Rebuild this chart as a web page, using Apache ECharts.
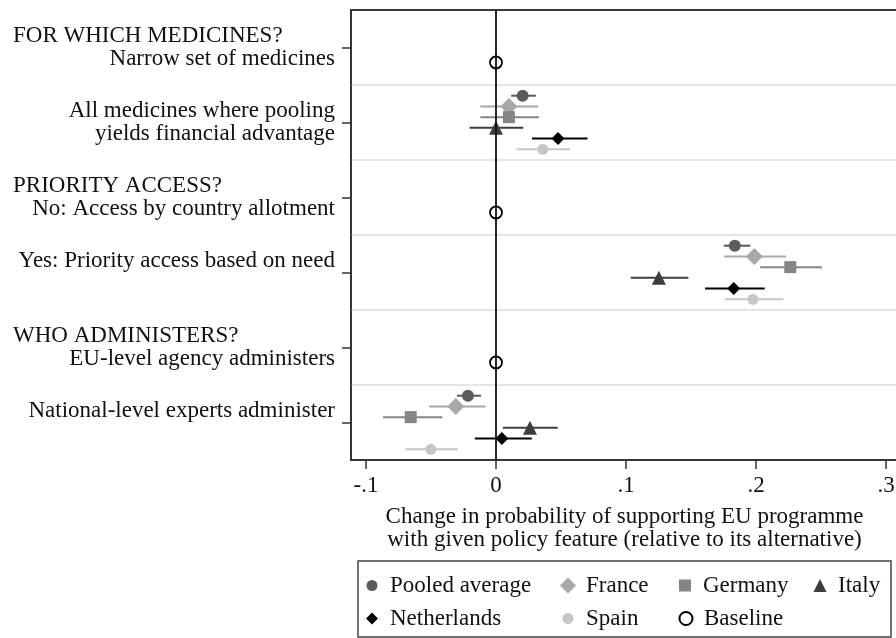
<!DOCTYPE html>
<html>
<head>
<meta charset="utf-8">
<script src="https://cdn.jsdelivr.net/npm/echarts@6/dist/echarts.min.js"></script>
<style>
  html, body { margin: 0; padding: 0; background: #fff; }
  #chart { width: 896px; height: 638px; }
</style>
</head>
<body>
<div id="chart"></div>
<script>
// rows, top to bottom
const rowHeaders = ['FOR WHICH MEDICINES?', '', 'PRIORITY ACCESS?', '', 'WHO ADMINISTERS?', '']
const rowLabels = [
  ['Narrow set of medicines'],
  ['All medicines where pooling', 'yields financial advantage'],
  ['No: Access by country allotment'],
  ['Yes: Priority access based on need'],
  ['EU-level agency administers'],
  ['National-level experts administer']
]
const xTicks = [-0.1, 0, 0.1, 0.2, 0.3]
const xTickLabels = ['-.1', '0', '.1', '.2', '.3']

// rows that carry estimates, and rows that are the baseline
const effectRows = [1, 3, 5]
const baselineRows = [0, 2, 4]
const baselineValues = [0, 0, 0]

// [estimate, lower, upper] for each effect row
const pooledData = [[0.0205, 0.0117, 0.0307], [0.1837, 0.1752, 0.1957], [-0.0216, -0.0301, -0.0115]]
const franceData = [[0.0099, -0.012, 0.0325], [0.1987, 0.1757, 0.2232], [-0.0309, -0.0515, -0.008]]
const germanyData = [[0.0099, -0.012, 0.033], [0.2264, 0.2032, 0.2507], [-0.0656, -0.0869, -0.0413]]
const italyData = [[0.0, -0.0203, 0.021], [0.1253, 0.1037, 0.148], [0.0261, 0.0053, 0.0475]]
const netherlandsData = [[0.0477, 0.0277, 0.0704], [0.1829, 0.1608, 0.2067], [0.0045, -0.0163, 0.0275]]
const spainData = [[0.036, 0.016, 0.057], [0.1976, 0.176, 0.2211], [-0.0501, -0.0696, -0.0296]]

const FONT = 'Liberation Serif'
const FS = 23
const TXT = '#111'

const groups = [
  {name: 'Pooled average', data: pooledData, symbol: 'circle', size: 12, color: '#5b5b5b'},
  {name: 'France', data: franceData, symbol: 'diamond', size: 17, color: '#a8a8a8'},
  {name: 'Germany', data: germanyData, symbol: 'rect', size: 12, color: '#858585'},
  {name: 'Italy', data: italyData, symbol: 'triangle', size: 14, color: '#3d3d3d'},
  {name: 'Netherlands', data: netherlandsData, symbol: 'diamond', size: 13, color: '#000'},
  {name: 'Spain', data: spainData, symbol: 'circle', size: 11, color: '#c6c6c6'}
]

const series = []
groups.forEach((g, k) => {
  const slot = (k + 1) / 7
  series.push({
    type: 'custom',
    name: g.name + ' CI',
    z: 2,
    encode: {x: [0, 1], y: 2},
    data: g.data.map((t, i) => [t[1], t[2], effectRows[i] + slot]),
    renderItem: (params, api) => {
      const a = api.coord([api.value(0), api.value(2)])
      const b = api.coord([api.value(1), api.value(2)])
      return {type: 'line', shape: {x1: a[0], y1: a[1], x2: b[0], y2: b[1]}, style: {stroke: g.color, lineWidth: 2}}
    }
  })
  series.push({
    type: 'scatter',
    name: g.name,
    z: 3,
    symbol: g.symbol,
    symbolSize: g.size,
    itemStyle: {color: g.color, opacity: 1},
    data: g.data.map((t, i) => [t[0], effectRows[i] + slot])
  })
})
series.push({
  type: 'scatter',
  name: 'Baseline',
  z: 4,
  symbol: 'circle',
  symbolSize: 12,
  itemStyle: {color: 'rgba(255,255,255,0)', borderColor: '#000', borderWidth: 1.8, opacity: 1},
  data: baselineValues.map((v, i) => [v, baselineRows[i] + 0.7]),
  markLine: {
    silent: true,
    symbol: 'none',
    label: {show: false},
    lineStyle: {color: '#111', width: 1.8, type: 'solid'},
    data: [{xAxis: 0}]
  }
})

// legend laid out as a 4-column table
const legendItems = [
  {name: 'Pooled average', cx: 372, cy: 585, size: 11},
  {name: 'France', cx: 568, cy: 585, size: 16},
  {name: 'Germany', cx: 685, cy: 585, size: 12},
  {name: 'Italy', cx: 820, cy: 585, size: 13},
  {name: 'Netherlands', cx: 372, cy: 618, size: 12},
  {name: 'Spain', cx: 568, cy: 618, size: 11},
  {name: 'Baseline', cx: 685, cy: 618, size: 13}
]
const legends = legendItems.map(it => ({
  data: [it.name],
  left: it.cx - it.size / 2,
  top: it.cy - 11,
  padding: 0,
  itemWidth: it.size,
  itemHeight: it.size,
  selectedMode: false,
  textStyle: {fontFamily: FONT, fontSize: FS, lineHeight: 22, color: TXT, padding: [0, 0, 0, 13 - it.size / 2]}
}))

const labelRich = {
  h: {width: 322, align: 'left', fontFamily: FONT, fontSize: FS, lineHeight: 23, color: TXT},
  l: {width: 322, align: 'right', fontFamily: FONT, fontSize: FS, lineHeight: 23, color: TXT},
  e: {fontFamily: FONT, fontSize: FS, lineHeight: 23}
}

const myChart = echarts.init(document.getElementById('chart'))
myChart.setOption({
  animation: false,
  backgroundColor: '#fff',
  grid: {
    left: 351,
    top: 10,
    right: -2,
    bottom: 178,
    containLabel: false,
    outerBoundsMode: 'none',
    show: true,
    borderColor: '#3a3a3a',
    borderWidth: 2
  },
  legend: legends,
  graphic: [{
    type: 'rect',
    shape: {x: 358, y: 561, width: 533, height: 76},
    style: {fill: 'none', stroke: '#444', lineWidth: 1.5},
    silent: true
  }],
  xAxis: {
    type: 'value',
    min: -0.11154,
    max: 0.30923,
    position: 'bottom',
    name: 'Change in probability of supporting EU programme\nwith given policy feature (relative to its alternative)',
    nameLocation: 'middle',
    nameGap: 45,
    nameTextStyle: {fontFamily: FONT, fontSize: FS, lineHeight: 23, color: TXT},
    axisLine: {show: true, onZero: false, lineStyle: {color: '#333', width: 1.5}},
    axisTick: {show: true, length: 9, customValues: xTicks, lineStyle: {color: '#333', width: 1.5}},
    axisLabel: {
      customValues: xTicks,
      margin: 14,
      fontFamily: FONT,
      fontSize: FS,
      color: TXT,
      formatter: v => xTickLabels[xTicks.findIndex(t => Math.abs(t - v) < 1e-9)]
    },
    splitLine: {show: false}
  },
  yAxis: [{
    type: 'value',
    inverse: true,
    min: 0,
    max: 6,
    position: 'left',
    axisLine: {show: true, onZero: false, lineStyle: {color: '#333', width: 1.5}},
    axisTick: {show: true, length: 9, customValues: rowLabels.map((_, i) => i + 0.5), lineStyle: {color: '#333', width: 1.5}},
    axisLabel: {
      customValues: rowLabels.map((_, i) => i + 0.5),
      margin: 16,
      formatter: v => {
        const i = Math.floor(v)
        const lines = rowLabels[i].map(s => '{l|' + s + '}')
        if (rowHeaders[i]) lines.unshift('{h|' + rowHeaders[i] + '}')
        else if (lines.length === 1) lines.push('{e| }')
        return lines.join('\n')
      },
      rich: labelRich
    },
    splitLine: {show: false}
  }, {
    type: 'value',
    inverse: true,
    min: 0,
    max: 6,
    interval: 1,
    position: 'left',
    axisLine: {show: false, onZero: false},
    axisTick: {show: false},
    axisLabel: {show: false},
    splitLine: {show: true, showMinLine: false, showMaxLine: false, lineStyle: {color: '#dcdcdc', width: 1.5}}
  }],
  series: series
})
</script>
</body>
</html>
